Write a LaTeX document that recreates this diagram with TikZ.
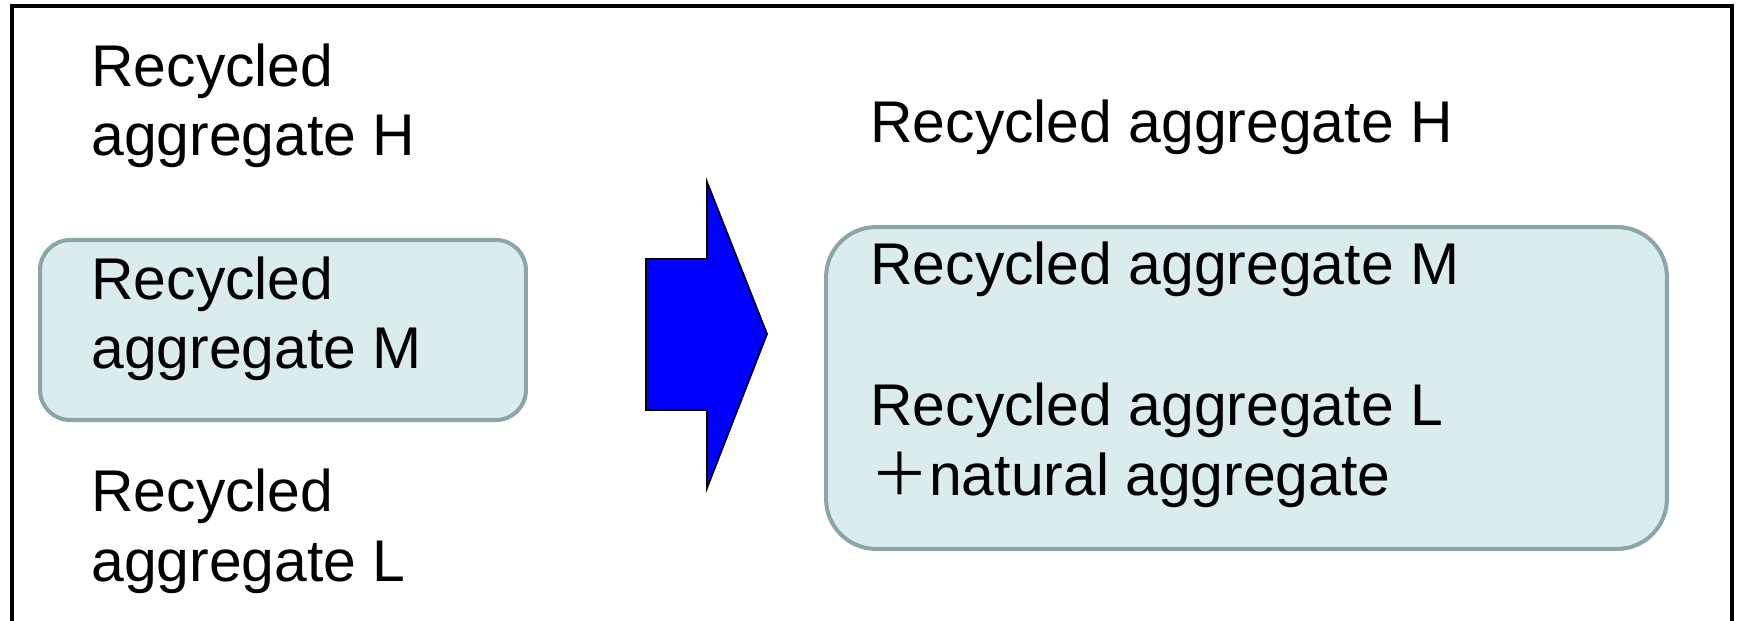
\documentclass[tikz,border=0pt]{standalone}
\usepackage{fontspec}
\setmainfont{Liberation Sans}
\newfontfamily\cjk{Noto Sans CJK JP}
\usepackage{xcolor}
\usepackage{tikz}
\usetikzlibrary{shapes.geometric, arrows}

\definecolor{boxfill}{HTML}{DAECEE}
\definecolor{boxline}{HTML}{8CA5A8}

\begin{document}
\begin{tikzpicture}[
		x=0.02cm, y=-0.02cm,
		itemtext/.style = {anchor=base west, inner sep=0pt, align=left,
				font=\fontsize{33.5}{39.3}\selectfont},
		groupbox/.style = {rectangle, draw=boxline, fill=boxfill,
				line width=2.3pt, inner sep=0pt},
		bigarrow/.style = {draw=black, fill=blue, line width=1pt},
		outerframe/.style = {draw=black, line width=2.6pt},
	]
	\useasboundingbox (0,0) rectangle (1741,621);

	% Outer frame (bottom edge lies below the picture)
	\path [outerframe] (12,640) -- (12,6) -- (1732,6) -- (1732,640);

	% Grouping boxes
	\node [groupbox, rounded corners=0.6cm, minimum width=9.72cm,
		minimum height=3.6cm] (leftgroup) at (283,330) {};
	\node [groupbox, rounded corners=1cm, minimum width=16.82cm,
		minimum height=6.44cm] (rightgroup) at (1246.5,388) {};

	% Before: three grades (base = last line)
	\node [itemtext] (beforeH) at (91,156) {Recycled\\aggregate H};
	\node [itemtext] (beforeM) at (91,369) {Recycled\\aggregate M};
	\node [itemtext] (beforeL) at (91,581) {Recycled\\aggregate L};

	% Block arrow
	\coordinate (tail) at (646,334);
	\coordinate (tip) at (767,334);
	\path [bigarrow] (tail) ++(0,-75) -- ++(61,0) -- ++(0,-77) -- (tip)
		-- (707,488) -- ++(0,-78) -- ++(-61,0) -- cycle;

	% After: regrouped grades
	\node [itemtext] (afterH) at (870,143) {Recycled aggregate H};
	\node [itemtext] (afterM) at (870,285) {Recycled aggregate M};
	\node [itemtext] (afterL) at (870,495) {Recycled aggregate L\\{\cjk ＋}natural aggregate};
\end{tikzpicture}
\end{document}
